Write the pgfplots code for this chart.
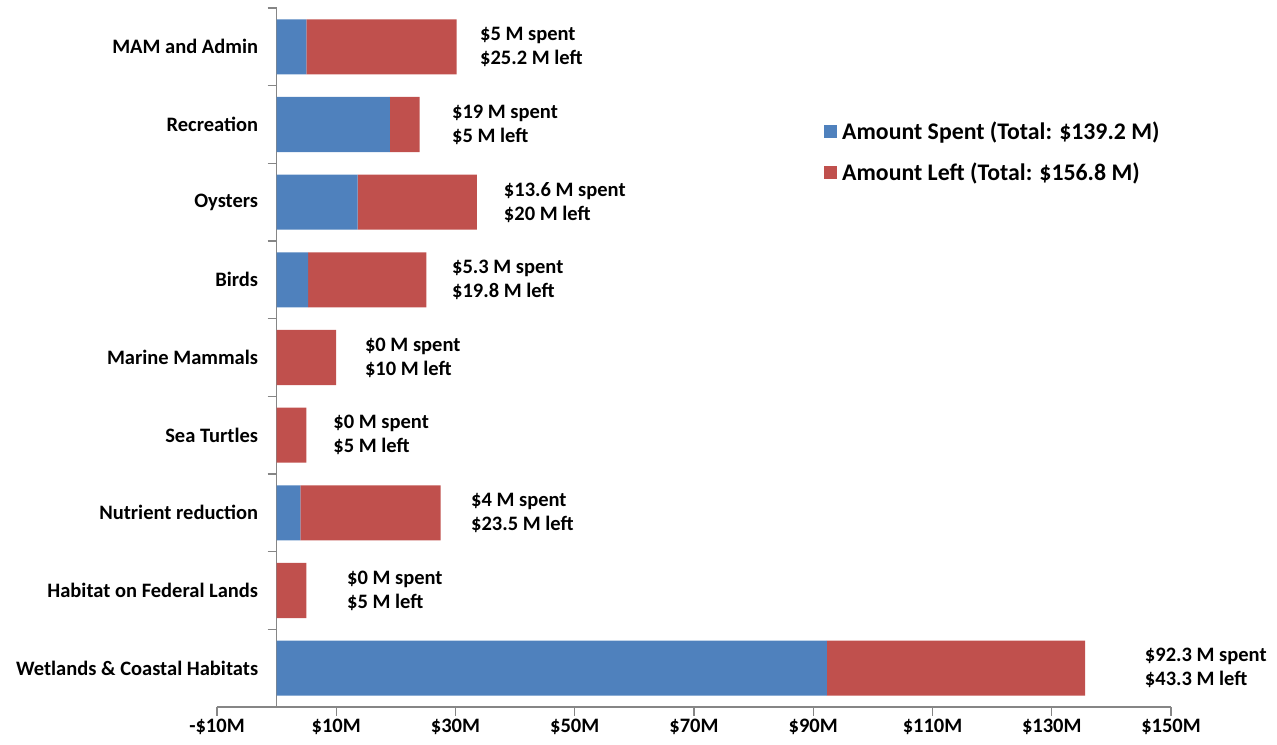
\documentclass[border=0pt]{standalone}
\usepackage{pgfplots}
\pgfplotsset{compat=1.18}
\usepackage{fontspec}
\setmainfont{Carlito}
\definecolor{cspent}{HTML}{4F81BD}
\definecolor{cleft}{HTML}{C0504D}
\definecolor{caxis}{HTML}{868686}
\begin{document}
\begin{tikzpicture}[font=\bfseries]
\begin{axis}[
  scale only axis, width=954pt, height=699pt,
  xbar stacked, bar width=0.71,
  xmin=-10, xmax=150, ymin=-0.5, ymax=8.5,
  axis x line=bottom, axis y line=middle,
  axis line style={-, draw=caxis, line width=1.2pt},
  tick style={draw=caxis, line width=1.2pt},
  tick align=outside, major tick length=9pt,
  xtick={-10,10,30,50,70,90,110,130,150},
  xticklabels={-\$10M,\$10M,\$30M,\$50M,\$70M,\$90M,\$110M,\$130M,\$150M},
  ytick={-0.5,0.5,1.5,2.5,3.5,4.5,5.5,6.5,7.5,8.5},
  y tick label as interval,
  yticklabels={Wetlands \& Coastal Habitats, Habitat on Federal Lands, Nutrient reduction, Sea Turtles, Marine Mammals, Birds, Oysters, Recreation, MAM and Admin},
  hide obscured x ticks=false, hide obscured y ticks=false,
  ticklabel style={font=\fontsize{20.5}{24}\selectfont\bfseries},
  yticklabel style={xshift=-6pt},
  legend style={at={(axis cs:91.3,7.09)}, anchor=north west, draw=none, fill=none,
    font=\fontsize{23.8}{28}\selectfont\bfseries, row sep=18pt, legend cell align=left},
  legend image code/.code={\fill[#1] (0pt,-6.5pt) rectangle (12.5pt,6pt); \path (16pt,0pt);},
  clip=false,
]
\addplot[fill=cspent, draw=none] coordinates {(92.3,0) (0,1) (4,2) (0,3) (0,4) (5.3,5) (13.6,6) (19,7) (5,8)};
\addplot[fill=cleft, draw=none] coordinates {(43.3,0) (5,1) (23.5,2) (5,3) (10,4) (19.8,5) (20,6) (5,7) (25.2,8)};
\legend{Amount Spent (Total: \$139.2 M), Amount Left (Total: \$156.8 M)}
\tikzset{anno/.style={anchor=west, align=left, inner sep=0pt, font=\fontsize{20.5}{24}\selectfont\bfseries}}
\node[anno] at (axis cs:34.1,8) {\$5 M spent\\\$25.2 M left};
\node[anno] at (axis cs:29.4,7) {\$19 M spent\\\$5 M left};
\node[anno] at (axis cs:38.1,6) {\$13.6 M spent\\\$20 M left};
\node[anno] at (axis cs:29.4,5) {\$5.3 M spent\\\$19.8 M left};
\node[anno] at (axis cs:14.8,4) {\$0 M spent\\\$10 M left};
\node[anno] at (axis cs:9.5,3) {\$0 M spent\\\$5 M left};
\node[anno] at (axis cs:32.6,2) {\$4 M spent\\\$23.5 M left};
\node[anno] at (axis cs:11.8,1) {\$0 M spent\\\$5 M left};
\node[anno] at (axis cs:145.6,0) {\$92.3 M spent\\\$43.3 M left};
\end{axis}
\pgfresetboundingbox
\path (current axis.south west) ++(-217pt,-38pt) coordinate (bl);
\path (current axis.north east) ++(106pt,8pt) coordinate (tr);
\path (bl) rectangle (tr);
\end{tikzpicture}
\end{document}
